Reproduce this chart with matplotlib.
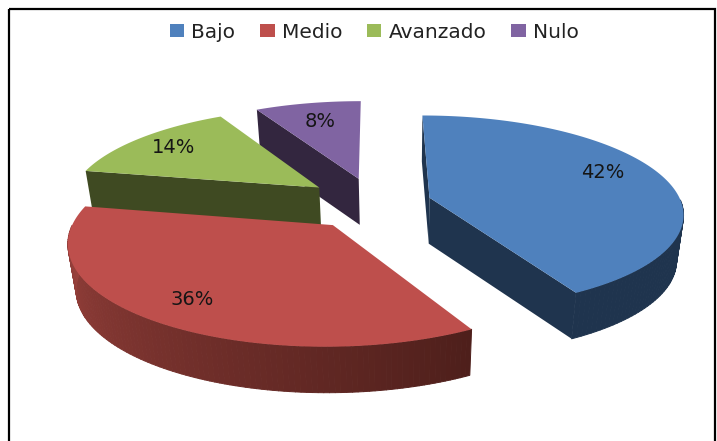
import numpy as np
import matplotlib
matplotlib.use("Agg")
import matplotlib.pyplot as plt
from matplotlib.patches import Patch, Polygon, Rectangle
from matplotlib.collections import PolyCollection
from matplotlib.colors import to_rgb

labels = ["Bajo", "Medio", "Avanzado", "Nulo"]
values = [42, 36, 14, 8]
colors = ["#4F81BD", "#BE4F4C", "#9BBB59", "#8064A2"]
side_colors = ["#1F344E", "#4E1F1B", "#3F4A22", "#33263F"]
wall_light = ["#1F344E", "#A0443F", "#3F4A22", "#33263F"]
explode = [0.225, 0.275, 0.28, 0.27]
label_r = [0.78, 0.80, 0.80, 0.73]
label_pos = [0.46, 0.5, 0.5, 0.5]
draw_order = [3, 2, 0, 1]

# fake 3d camera, everything in figure pixels
cx, cy = 375, 203
rx, ry = 252, 96
persp = 0.15
height = 46
vanish_x = 400


def proj(x, y, z=0.0):
    w = 1 / (1 - persp * y)
    sx = cx + rx * x * w
    sy = cy + ry * y * w
    sx = sx + (vanish_x - sx) * 0.025 * z
    return sx, sy + height * z


def slice_pts(t, ex, mid, z=0.0):
    ox, oy = ex * np.sin(mid), -ex * np.cos(mid)
    sx, sy = proj(ox + np.sin(t), oy - np.cos(t), z)
    return np.column_stack([sx, sy]), proj(ox, oy, z)


fig = plt.figure(figsize=(7.17, 4.41), dpi=100)
ax = fig.add_axes([0, 0, 1, 1])
ax.set_xlim(0, 717)
ax.set_ylim(441, 0)
ax.axis("off")

# frame of the pasted picture
ax.add_patch(Rectangle((8.5, 9), 706.5, 440, fill=False, ec="black", lw=1.6, zorder=0))

edges = np.cumsum([0] + values) / sum(values) * 2 * np.pi
for i in draw_order:
    t0, t1 = edges[i], edges[i + 1]
    mid = (t0 + t1) / 2
    t = np.linspace(t0, t1, 120)
    top, apex = slice_pts(t, explode[i], mid)
    bot, apex_b = slice_pts(t, explode[i], mid, z=1)

    # cut faces, only the ones turned to the viewer
    if -np.sin(t0) > -1e-6:
        ax.add_patch(Polygon([top[0], apex, apex_b, bot[0]], fc=side_colors[i], ec="none"))
    if np.sin(t1) > 1e-6:
        ax.add_patch(Polygon([top[-1], apex, apex_b, bot[-1]], fc=side_colors[i], ec="none"))

    # outer wall, shaded strip by strip, front half only
    f = np.linspace(0, 1, len(t) - 1)
    a, b = np.array(to_rgb(side_colors[i])), np.array(to_rgb(wall_light[i]))
    quads, shade = [], []
    for k in range(len(t) - 1):
        if np.cos(t[k]) < -0.02:
            quads.append([top[k], top[k + 1], bot[k + 1], bot[k]])
            shade.append(tuple(a + (b - a) * f[k]))
    if quads:
        ax.add_collection(PolyCollection(quads, facecolors=shade, edgecolors=shade, linewidths=0.7))

    ax.add_patch(Polygon(np.vstack([top, apex]), fc=colors[i], ec="none"))

    ox, oy = explode[i] * np.sin(mid), -explode[i] * np.cos(mid)
    tl = t0 + (t1 - t0) * label_pos[i]
    lx, ly = proj(ox + label_r[i] * np.sin(tl), oy - label_r[i] * np.cos(tl))
    ax.text(lx, ly, f"{values[i]}%", ha="center", va="center", fontsize=14,
            family="DejaVu Sans", color="#151515")

handles = [Patch(fc=c, ec="none") for c in colors]
ax.legend(handles, labels, loc="upper center", bbox_to_anchor=(0.522, 0.99), ncol=4,
          frameon=False, prop={"family": "DejaVu Sans", "size": 14.5}, handlelength=0.7,
          handleheight=0.6, handletextpad=0.35, columnspacing=1.25, labelcolor="#222222")

fig.savefig("out.png", dpi=100)
